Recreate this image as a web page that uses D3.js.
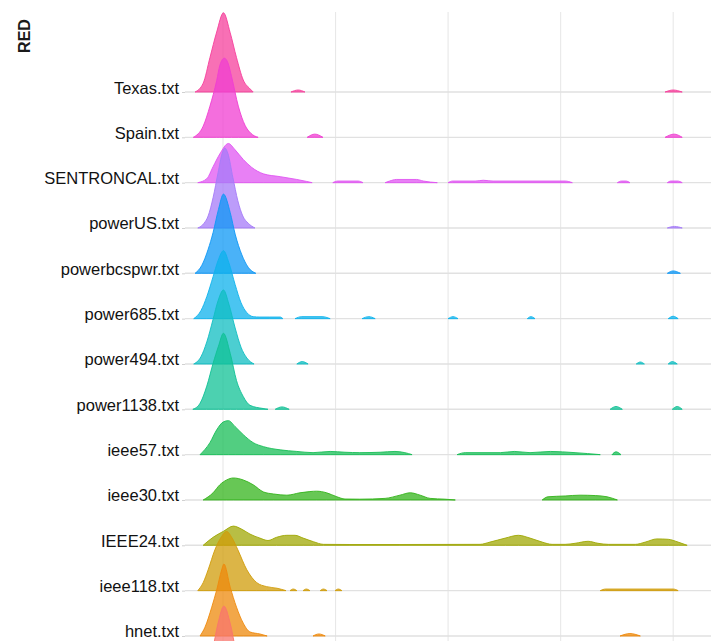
<!DOCTYPE html>
<html><head><meta charset="utf-8">
<script src="https://cdn.jsdelivr.net/npm/d3@7"></script>
<style>
html,body{margin:0;padding:0;background:#fff;}
svg{display:block;font-family:"Liberation Sans",Arial,sans-serif;}
</style></head>
<body><svg id="c" width="711" height="641"></svg>
<script>
// categories, top row first (the last one is cut off at the bottom of the crop)
const categories = ["Texas.txt","Spain.txt","SENTRONCAL.txt","powerUS.txt","powerbcspwr.txt","power685.txt","power494.txt","power1138.txt","ieee57.txt","ieee30.txt","IEEE24.txt","ieee118.txt","hnet.txt",""];
const colors = ["#F6409C","#F03ED2","#E056F2","#A57BF8","#0E98F6","#0DB2EC","#10BEC2","#10C195","#18BE57","#34B41C","#A0A806","#D09C0A","#EE8A0C","#F8766D"];
const xTicks = [0, 25, 50, 75, 100];
const axisTitle = "RED";

// density estimates [x, density] per ridge, each ridge may consist of several pieces
const texas = [
  [[-6.2,0],[-4.4,1.1],[-2.9,4.3],[-1.4,7.5],[0.1,9.9],[1.6,7.4],[3.0,4.3],[4.5,1.5],[6.0,0.4],[6.7,0]],
  [[15.1,0],[16.7,0.25],[18.2,0]],
  [[98.2,0],[100,0.25],[102,0]]
];
const spain = [
  [[-6.6,0],[-4.4,1.4],[-2.9,3.9],[-1.4,7.1],[-0.7,9.0],[0.3,9.9],[1.1,9.3],[1.9,7.6],[3.4,3.9],[4.9,1.5],[6.2,0.5],[7.8,0]],
  [[18.7,0],[20.4,0.4],[22.2,0]],
  [[98.2,0],[100.2,0.4],[102,0]]
];
const sentroncal = [
  [[-5.6,0],[-3.6,0.5],[-2.2,2.0],[-0.7,3.6],[1.2,4.9],[2.7,4.1],[4.5,2.9],[6.4,1.9],[9.0,1.1],[12.7,0.75],[16.4,0.4],[18.6,0.15],[19.8,0]],
  [[24.4,0],[25.5,0.2],[30,0.2],[31.1,0]],
  [[36,0],[37,0.2],[38.5,0.4],[43,0.4],[44.5,0.2],[47.6,0]],
  [[50,0],[51,0.2],[56,0.2],[57.8,0.3],[60,0.2],[76,0.2],[77.6,0]],
  [[87.6,0],[88.5,0.2],[89.5,0.2],[90.4,0]],
  [[98.7,0],[99.5,0.2],[101,0.2],[102,0]]
];
const powerUS = [
  [[-5.6,0],[-4.2,0.6],[-3.3,1.5],[-2.2,3.8],[-1.1,6.9],[-0.2,9.3],[0.4,10],[1.1,9.3],[2.2,6.3],[3.3,3.4],[4.4,1.5],[5.6,0.6],[7.1,0]],
  [[98.7,0],[100.3,0.2],[102,0]]
];
const powerbcspwr = [
  [[-6.2,0],[-4.7,1.0],[-3.3,3.0],[-2.2,5.1],[-1.0,8.0],[0.1,9.9],[1.6,7.6],[2.7,4.9],[4.2,2.3],[5.6,0.75],[7.3,0]],
  [[98.7,0],[100,0.3],[101.6,0]]
];
const power685 = [
  [[-6.5,0],[-4.9,1.0],[-3.6,2.75],[-2.2,5.25],[-1.1,7.25],[0.1,8.5],[1.3,7.0],[2.7,4.25],[4.0,2.0],[5.3,0.75],[6.7,0.25],[8.2,0.2],[10.4,0.2],[12.7,0.2],[13.3,0]],
  [[16,0],[17.5,0.25],[22,0.25],[23.8,0]],
  [[30.9,0],[32.4,0.25],[33.8,0]],
  [[50,0],[51.1,0.25],[52.2,0]],
  [[67.6,0],[68.4,0.25],[69.3,0]],
  [[98.9,0],[100,0.3],[101.1,0]]
];
const power494 = [
  [[-6.5,0],[-4.9,0.9],[-3.6,2.75],[-2.2,5.6],[-1.1,7.9],[0.1,9.25],[1.3,7.5],[2.7,4.5],[4.0,2.1],[5.3,0.75],[6.9,0]],
  [[16.4,0],[17.6,0.3],[18.9,0]],
  [[91.8,0],[92.7,0.25],[93.6,0]],
  [[98.9,0],[99.8,0.3],[100.9,0]]
];
const power1138 = [
  [[-6.7,0],[-5.1,0.75],[-3.6,2.9],[-2.2,5.75],[-1.0,7.9],[0.1,9.5],[1.6,7.0],[3.0,3.6],[4.5,1.6],[6.0,0.5],[8.9,0.1],[10,0]],
  [[11.6,0],[13.1,0.3],[14.7,0]],
  [[86,0],[87.3,0.35],[88.7,0]],
  [[99.8,0],[100.9,0.35],[102,0]]
];
const ieee57 = [
  [[-5.1,0],[-2.9,1.5],[-1.4,3.1],[0.1,4.1],[1.2,4.25],[2.7,3.5],[4.5,2.5],[6.7,1.5],[9.0,1.0],[12.7,0.6],[16.4,0.4],[20,0.25],[23.8,0.4],[27.1,0.3],[30.4,0.25],[34.9,0.3],[38.2,0.4],[40.4,0.25],[42,0]],
  [[52,0],[53.8,0.25],[61.6,0.25],[64.7,0.4],[68.2,0.25],[72.7,0.4],[78.2,0.25],[83.8,0]],
  [[86.4,0],[87.3,0.35],[88.4,0]]
];
const ieee30 = [
  [[-4.4,0],[-2.2,0.9],[-0.7,1.9],[0.8,2.5],[2.3,2.75],[4.5,2.5],[6.7,1.9],[9.0,1.0],[11.2,0.75],[14.2,0.6],[17.1,0.9],[19.3,1.05],[20.8,1.1],[23.0,0.9],[25.3,0.4],[27.1,0.12],[30.4,0.1],[36,0.2],[39.3,0.6],[41.6,0.9],[43.8,0.6],[46,0.2],[49.3,0.1],[51.6,0]],
  [[70.9,0],[72.2,0.4],[76,0.5],[79.3,0.6],[82.7,0.55],[85.3,0.4],[87.6,0]]
];
const ieee24 = [
  [[-4.4,0],[-2.2,1.0],[0.1,1.75],[2.3,2.4],[4.2,2.0],[6.0,1.4],[8.2,0.9],[10,0.6],[11.9,1.0],[14.2,1.25],[16,1.25],[17.8,0.9],[20.1,0.45],[22.3,0.12],[28.2,0.1],[39.3,0.1],[57.1,0.12],[59.3,0.4],[62.7,0.9],[65.6,1.25],[68.2,0.9],[70.9,0.4],[73.1,0.12],[76,0.12],[78.2,0.25],[81.1,0.5],[83.3,0.25],[85.6,0.12],[91.6,0.12],[93.8,0.4],[96.4,0.8],[98.9,0.75],[101.1,0.4],[103.1,0]]
];
const ieee118 = [
  [[-5.6,0],[-4.4,1.0],[-3.3,2.6],[-1.8,5.1],[-0.5,6.6],[0.8,7.4],[2.0,6.6],[3.3,5.1],[5.3,2.6],[7.5,1.0],[9.7,0.5],[12,0.3],[14,0]],
  [[14.9,0],[15.6,0.2],[16.4,0]],
  [[17.8,0],[18.5,0.2],[19.3,0]],
  [[21.6,0],[22.3,0.2],[23.1,0]],
  [[24.9,0],[25.6,0.2],[26.4,0]],
  [[83.8,0],[85,0.2],[100,0.2],[101.1,0]]
];
const hnet = [
  [[-5.1,0],[-4.0,1.1],[-2.5,3.6],[-1.4,5.75],[-0.3,8.25],[0.2,9.0],[1.6,6.1],[3.0,3.6],[4.5,1.6],[6.0,0.5],[8.2,0.25],[9.8,0]],
  [[20,0],[21.3,0.25],[22.7,0]],
  [[88.2,0],[90.4,0.3],[92.7,0]]
];
const lastRow = [
  [[-6,0],[-4,1.25],[-2.4,3.75],[-1.1,7.25],[0.2,9.4],[1.6,7.25],[2.9,3.75],[4.4,1.25],[6.4,0]]
];
const ridges = [texas, spain, sentroncal, powerUS, powerbcspwr, power685, power494, power1138, ieee57, ieee30, ieee24, ieee118, hnet, lastRow];

const svg = d3.select("#c");
const W = 711, H = 641;
const x = d3.scaleLinear().domain([-8.44, 108.4]).range([185, 711]);
const y = d3.scalePoint().domain(d3.range(categories.length)).range([92, 681.3]);
const h = d3.scaleLinear().domain([0, 10]).range([0, 80]);

// vertical grid
svg.append("g").selectAll("line").data(xTicks).join("line")
  .attr("x1", d => x(d)).attr("x2", d => x(d))
  .attr("y1", 12).attr("y2", H)
  .attr("stroke", "#e8e8e8").attr("stroke-width", 1.1);

// horizontal grid at each category baseline
svg.append("g").selectAll("line").data(d3.range(categories.length)).join("line")
  .attr("x1", 185).attr("x2", W)
  .attr("y1", d => y(d)).attr("y2", d => y(d))
  .attr("stroke", "#e1e1e1").attr("stroke-width", 1.4);

// y axis with labels
const yAxis = d3.axisLeft(y).tickSize(3).tickPadding(3).tickFormat(i => categories[i]);
const ga = svg.append("g").attr("transform", "translate(185,0)").call(yAxis);
ga.select(".domain").remove();
ga.selectAll(".tick line").attr("stroke", "#d0d0d0");
ga.selectAll(".tick text")
  .attr("dy", "0.06em")
  .attr("fill", "#111")
  .style("font-size", "16.5px")
  .style("font-family", "'Liberation Sans', Arial, sans-serif");

// ridges (top first so lower rows overlap upper)
const area = d3.area().curve(d3.curveMonotoneX);
ridges.forEach((pieces, i) => {
  const base = y(i);
  area.x(d => x(d[0])).y0(base).y1(d => base - h(d[1]));
  const g = svg.append("g");
  g.selectAll("path").data(pieces).join("path")
    .attr("d", area)
    .attr("fill", colors[i]).attr("fill-opacity", 0.75)
    .attr("stroke", colors[i]).attr("stroke-width", 1).attr("stroke-opacity", 0.9);
});

// axis title
svg.append("text")
  .attr("transform", "translate(29.5,36) rotate(-90)")
  .attr("text-anchor", "middle")
  .style("font-size", "16px").style("font-weight", "bold")
  .attr("fill", "#1a1a1a")
  .text(axisTitle);
</script>
</body></html>
